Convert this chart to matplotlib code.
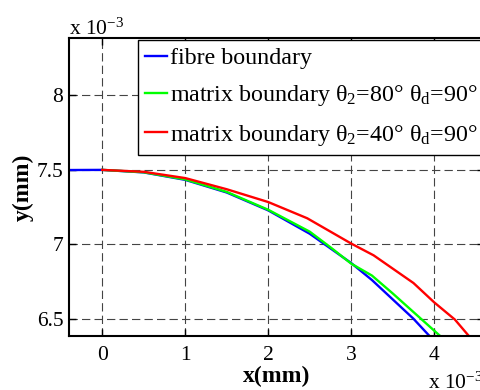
import matplotlib
matplotlib.use("Agg")
import matplotlib.pyplot as plt
import numpy as np

plt.rcParams['font.family'] = ['Liberation Serif', 'DejaVu Serif']
plt.rcParams['mathtext.fontset'] = 'custom'
plt.rcParams['mathtext.rm'] = 'Liberation Serif'
plt.rcParams['mathtext.it'] = 'Liberation Serif:italic'
plt.rcParams['mathtext.bf'] = 'Liberation Serif:bold'
plt.rcParams['lines.scale_dashes'] = False

# data (units of 1e-3 mm)
fibre_x = [-0.4, 0.0, 0.5, 1.0, 1.5, 2.0, 2.5, 3.0, 3.25, 3.5, 3.75, 4.0]
fibre_y = [7.499, 7.5, 7.483, 7.433, 7.348, 7.228, 7.071, 6.874, 6.76, 6.63, 6.50, 6.35]
m80_x = [0.0, 0.5, 1.0, 1.5, 2.0, 2.5, 2.75, 3.0, 3.25, 3.5, 3.75, 4.0, 4.2]
m80_y = [7.5, 7.484, 7.436, 7.352, 7.232, 7.085, 6.98, 6.87, 6.79, 6.67, 6.545, 6.42, 6.32]
m40_x = [0.0, 0.5, 1.0, 1.5, 2.0, 2.47, 3.0, 3.27, 3.75, 4.0, 4.25, 4.5]
m40_y = [7.5, 7.487, 7.445, 7.37, 7.284, 7.175, 7.005, 6.926, 6.74, 6.61, 6.494, 6.33]
labels = ['fibre boundary',
          r'matrix boundary $\mathrm{θ}_2$=80° $\mathrm{θ}_\mathrm{d}$=90°',
          r'matrix boundary $\mathrm{θ}_2$=40° $\mathrm{θ}_\mathrm{d}$=90°']
xticks = [0, 1, 2, 3, 4]
yticks = [6.5, 7.0, 7.5, 8.0]
yticklabels = ['6.5', '7', '7.5', '8']

W, H = 480, 390
fig = plt.figure(figsize=(W/100, H/100), dpi=100)
L, R, T, B = 69, 484, 38, 336
ax = fig.add_axes([L/W, 1-B/H, (R-L)/W, (B-T)/H])

scale = 1e-3
ax.plot(np.array(fibre_x)*scale, np.array(fibre_y)*scale, color=(0, 0, 1), lw=1.7, label=labels[0])
ax.plot(np.array(m80_x)*scale, np.array(m80_y)*scale, color=(0, 1, 0), lw=1.7, label=labels[1])
ax.plot(np.array(m40_x)*scale, np.array(m40_y)*scale, color=(1, 0, 0), lw=1.7, label=labels[2])

ax.set_xlim(-0.4e-3, 4.6e-3)
ax.set_ylim(6.384e-3, 8.386e-3)
ax.set_xticks(np.array(xticks)*scale)
ax.set_xticklabels([str(t) for t in xticks])
ax.set_yticks(np.array(yticks)*scale)
ax.set_yticklabels(yticklabels)
ax.tick_params(direction='in', length=5, width=1, top=True, right=True, labelsize=15.5, color='black')
ax.tick_params(axis='x', pad=7)
ax.tick_params(axis='y', pad=4)
ax.grid(True, color='#444444', linestyle=(0, (6, 3)), linewidth=0.8)
for s in ax.spines.values():
    s.set_linewidth(1.5)

ax.set_xlabel('x(mm)', fontsize=17, fontweight='bold', labelpad=1)
ax.set_ylabel('y(mm)', fontsize=17, fontweight='bold', labelpad=2)

leg = ax.legend(loc='upper left', bbox_to_anchor=(138/W, 1-40/H), bbox_transform=fig.transFigure,
                fontsize=17.3, frameon=True, fancybox=False, shadow=False, borderaxespad=0,
                handlelength=0.9, handletextpad=0.15, borderpad=0.3, labelspacing=0.6)
leg.get_frame().set_edgecolor('black')
leg.get_frame().set_linewidth(1.0)
leg.get_frame().set_alpha(1)

fig.text(69/W, 1-35/H, r'x 10$^{-3}$', fontsize=15.5, va='baseline', ha='left')
fig.text(428/W, 1-389/H, r'x 10$^{-3}$', fontsize=15.5, va='baseline', ha='left')

fig.savefig('out.png', dpi=100)
